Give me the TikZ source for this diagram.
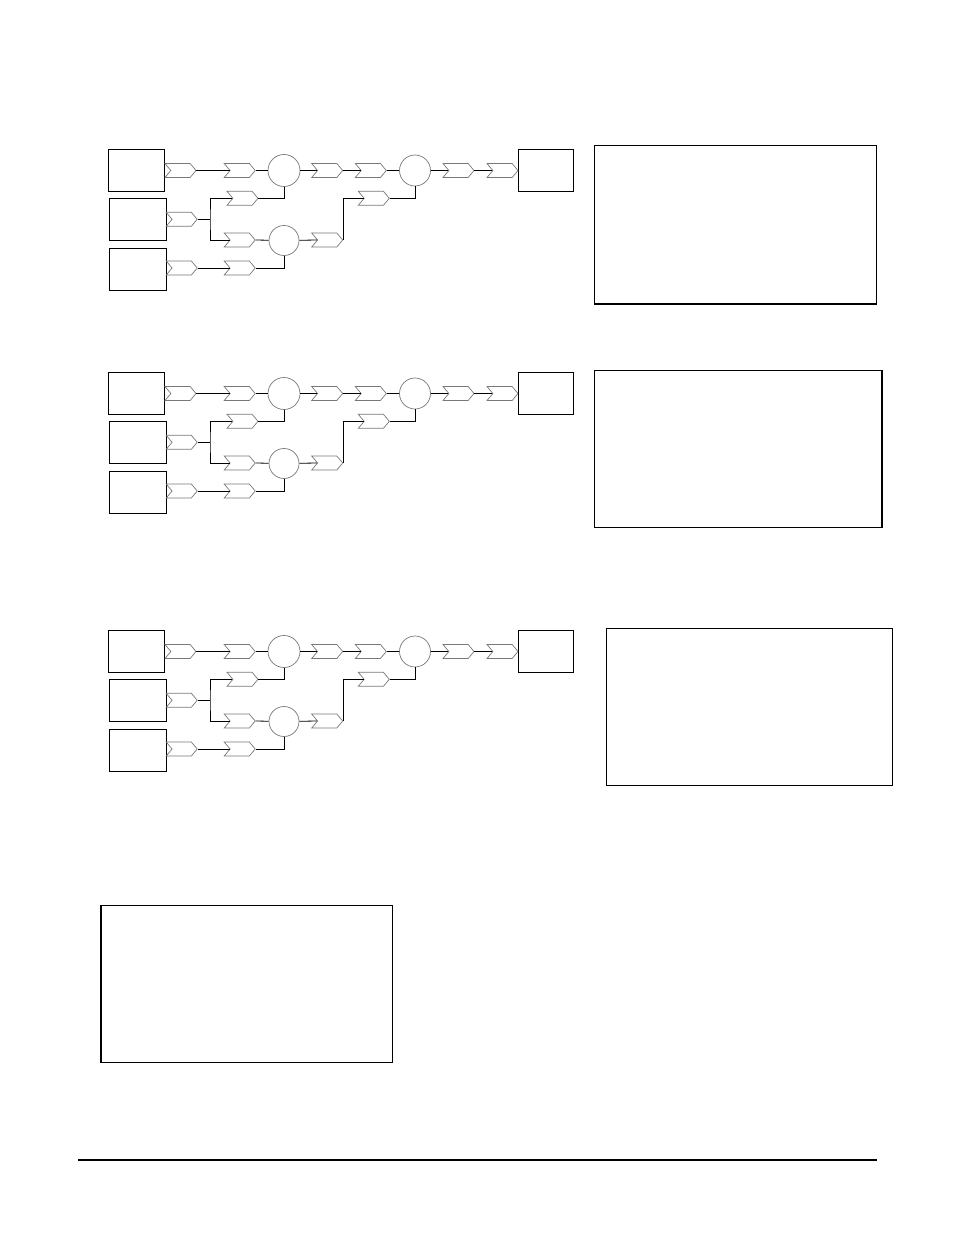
\documentclass[tikz,border=0pt]{standalone}
\usepackage{tikz}
\usepackage{xcolor}
\definecolor{edge}{RGB}{120,120,120}
\definecolor{pale}{RGB}{190,190,190}
\usetikzlibrary{calc,shapes.symbols,positioning}
\tikzset{
  src/.style={draw, line width=1pt, minimum width=56pt, minimum height=42pt, inner sep=0pt},
  stage/.style={signal, signal from=west, signal to=east, signal pointer angle=100,
    draw=edge, line width=0.7pt, minimum width=31pt, minimum height=14pt, inner sep=0pt},
  merge/.style={circle, draw=edge, line width=0.7pt, minimum size=31pt, inner sep=0pt},
  wire/.style={line width=0.8pt},
  note/.style={draw, line width=1.1pt, inner sep=0pt, anchor=north west}
}

\begin{document}
\begin{tikzpicture}[x=1pt,y=-1pt]
        \useasboundingbox (0,0) rectangle (954,1235);
        \foreach \r/\dy in {1/0,2/223,3/481}{
            \begin{scope}[shift={(0,\dy)}]
                \node[src] (inA\r) at (136,170) {};
                \node[src, minimum width=57pt] (inB\r) at (137.5,219) {};
                \node[src, minimum width=57pt] (inC\r) at (137.5,269) {};
                \node[src, minimum width=55pt] (out\r) at (545.5,170) {};
                \node[merge, minimum size=32pt] (mx\r) at (284,170.5) {};
                \node[merge] (my\r) at (415,170.5) {};
                \node[merge, minimum size=30pt] (mz\r) at (284,240.5) {};
                \node[stage] (sa\r) at (180.5,170.5) {};
                \node[stage] (sb\r) at (239.7,170.5) {};
                \node[stage] (sc\r) at (327.2,170.5) {};
                \node[stage] (sd\r) at (370.8,170.5) {};
                \node[stage] (se\r) at (458.5,170.5) {};
                \node[stage] (sf\r) at (502.5,170.5) {};
                \node[stage] (ta\r) at (181.7,219.3) {};
                \node[stage] (tb\r) at (242.5,198.3) {};
                \node[stage] (tc\r) at (239.7,240) {};
                \node[stage] (ua\r) at (181.7,268) {};
                \node[stage] (ub\r) at (239.7,268) {};
                \node[stage] (va\r) at (327.2,240) {};
                \node[stage] (vb\r) at (373.8,198.3) {};
                \coordinate (fork\r) at (210,219.3);
            \end{scope}
            \draw[wire] (sa\r.east) -- (sb\r.west);
            \draw[wire] (sb\r.east) -- (mx\r);
            \draw[wire] (mx\r) -- (sc\r.west);
            \draw[wire] (sc\r.east) -- (sd\r.west);
            \draw[wire] (sd\r.east) -- (my\r);
            \draw[wire] (my\r) -- (se\r.west);
            \draw[wire] (se\r.east) -- (sf\r.west);
            \draw[wire] (ta\r.east) -- (fork\r);
            \draw[wire] (tb\r.west) -| (fork\r) |- (tc\r.west);
            \draw[wire] (tb\r.east) -| (mx\r.south);
            \draw[wire] (tc\r.east) -- (mz\r);
            \draw[wire] (ua\r.east) -- (ub\r.west);
            \draw[wire] (ub\r.east) -| (mz\r.south);
            \draw[wire] (mz\r) -- (va\r.west);
            \draw[wire] (va\r.east) |- (vb\r.west);
            \draw[wire] (vb\r.east) -| (my\r.south);
        }
        \node[note, minimum width=282pt, minimum height=158pt] (memo1) at (594,145) {};
        \node[note, minimum width=287pt, minimum height=157pt] (memo2) at (594,370) {};
        \node[note, minimum width=286pt, minimum height=157pt] (memo3) at (606,628) {};
        \node[note, minimum width=291pt, minimum height=157pt] (memo4) at (101,905) {};
        \draw[line width=2.6pt] (memo1.south west) -- (memo1.south east);
        \draw[line width=2.2pt] (memo2.north east) -- (memo2.south east);
        \draw[line width=2.2pt] (memo4.north west) -- (memo4.south west);
        \draw[line width=1.3pt] (78,1160) -- (877,1160);
    \end{tikzpicture}
\end{document}
